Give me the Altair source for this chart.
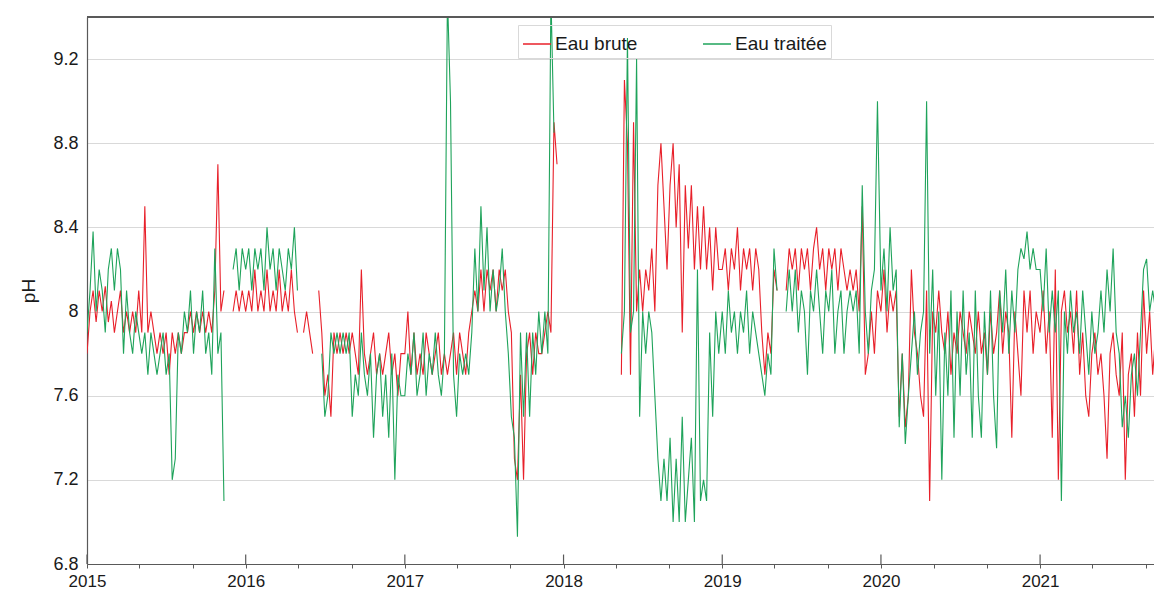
import altair as alt
import pandas as pd

# ---------------- data (weekly readings) ----------------
years = [2015, 2016, 2017, 2018, 2019, 2020, 2021]
series_names = ["Eau brute", "Eau traitée"]
series_colors = ["#E8202A", "#1FA35B"]
y_ticks = [6.8, 7.2, 7.6, 8.0, 8.4, 8.8, 9.2]

brute_2015 = [7.8, 8.0, 8.1, 7.95, 8.1, 8.0, 8.12, 7.95, 8.05, 7.9,
              8.0, 8.1, 7.9, 8.0, 7.9, 8.0, 7.9, 8.1, 7.9, 8.5,
              7.9, 8.0, 7.9, 7.8, 7.9, 7.8, 7.9, 7.7, 7.9, 7.8,
              7.9, 7.8, 7.9, 7.9, 8.0, 7.9, 8.0, 7.9, 8.0, 7.9,
              8.0, 7.9, 8.1, 8.7, 8.0, 8.1, None, None, 8.0, 8.1,
              8.0, 8.1]
traitee_2015 = [7.9, 8.1, 8.38, 8.0, 8.2, 8.1, 7.9, 8.2, 8.3, 8.1,
                8.3, 8.2, 7.8, 8.1, 7.9, 7.8, 8.0, 7.9, 7.8, 7.9,
                7.7, 7.9, 7.8, 7.7, 7.8, 7.9, 7.7, 7.8, 7.2, 7.3,
                7.9, 7.8, 8.0, 7.9, 8.1, 7.8, 8.0, 7.9, 8.1, 7.8,
                7.9, 7.7, 8.3, 7.8, 7.9, 7.1, None, None, 8.2, 8.3,
                8.1, 8.3]

brute_2016 = [8.0, 8.1, 8.0, 8.2, 8.0, 8.1, 8.0, 8.2, 8.0, 8.1,
              8.0, 8.2, 8.0, 8.1, 8.0, 8.2, 8.0, 7.9, None, 7.9,
              8.0, 7.9, 7.8, None, 8.1, 7.9, 7.6, 7.7, 7.5, 7.9,
              7.8, 7.9, 7.8, 7.9, 7.8, 7.9, 7.8, 7.7, 8.2, 7.8,
              7.7, 7.8, 7.9, 7.7, 7.8, 7.7, 7.8, 7.9, 7.7, 7.8,
              7.6, 7.8]
traitee_2016 = [8.2, 8.3, 8.1, 8.3, 8.2, 8.3, 8.1, 8.4, 8.2, 8.3,
                8.1, 8.3, 8.2, 8.1, 8.3, 8.2, 8.4, 8.1, None, None,
                None, None, None, None, None, 7.8, 7.5, 7.6, 7.9, 7.8,
                7.9, 7.8, 7.9, 7.8, 7.9, 7.5, 7.7, 7.6, 7.9, 7.7,
                7.6, 7.8, 7.4, 7.7, 7.8, 7.5, 7.7, 7.4, 7.8, 7.2,
                7.7, 7.6]

brute_2017 = [7.8, 8.0, 7.7, 7.9, 7.7, 7.8, 7.7, 7.9, 7.8, 7.7,
              7.8, 7.9, 7.7, 7.8, 7.7, 7.8, 7.9, 7.7, 7.9, 7.8,
              7.7, 7.9, 8.0, 8.1, 8.0, 8.2, 8.0, 8.2, 8.1, 8.2,
              8.0, 8.2, 8.1, 8.2, 8.0, 7.9, 7.3, 7.2, 7.7, 7.2,
              7.8, 7.9, 7.7, 7.9, 7.8, 7.8, 7.9, 8.0, 7.9, 8.9,
              8.7, None]
traitee_2017 = [7.6, 7.8, 7.7, 7.9, 7.6, 7.7, 7.9, 7.6, 7.8, 7.7,
                7.9, 7.7, 7.6, 7.8, 9.5, 9.0, 7.7, 7.5, 7.8, 7.7,
                7.8, 7.7, 7.9, 8.3, 8.0, 8.5, 8.1, 8.4, 8.0, 8.2,
                8.0, 8.1, 8.3, 8.0, 7.8, 7.5, 7.4, 6.93, 7.9, 7.5,
                7.9, 7.5, 7.9, 7.7, 8.0, 7.8, 8.0, 7.8, 9.5, 8.85,
                None, None]

brute_2018 = [None] * 19 + [
    7.7, 9.1, 8.8, 7.7, 8.9, 8.0, 8.2, 8.0, 8.2, 8.1,
    8.3, 8.0, 8.6, 8.8, 8.5, 8.2, 8.6, 8.8, 8.4, 8.7,
    7.9, 8.6, 8.3, 8.6, 8.2, 8.5, 8.2, 8.5, 8.2, 8.4,
    8.1, 8.4, 8.2]
traitee_2018 = [None] * 19 + [
    7.8, 8.0, 9.3, 7.9, 8.0, 9.2, 7.5, 8.0, 7.8, 8.0,
    7.9, 7.6, 7.3, 7.1, 7.3, 7.1, 7.4, 7.0, 7.3, 7.0,
    7.5, 7.0, 7.2, 7.4, 7.0, 8.2, 7.1, 7.2, 7.1, 7.9,
    7.5, 8.0, 7.8]

brute_2019 = [8.2, 8.3, 8.1, 8.3, 8.2, 8.4, 8.1, 8.3, 8.2, 8.3,
              8.1, 8.3, 8.2, 7.9, 7.7, 7.9, 7.8, 8.2, 8.1, None,
              None, 8.1, 8.3, 8.2, 8.3, 8.1, 8.3, 8.2, 8.3, 8.1,
              8.3, 8.4, 8.2, 8.3, 8.1, 8.3, 8.2, 8.3, 8.1, 8.3,
              8.2, 8.1, 8.2, 8.1, 8.2, 8.0, 8.5, 7.7, 7.8, 8.0,
              7.8, 8.1]
traitee_2019 = [8.0, 7.8, 8.1, 7.9, 8.0, 7.8, 8.0, 7.9, 8.1, 7.8,
                8.0, 7.9, 7.8, 7.7, 7.6, 7.8, 7.7, 8.3, 8.1, None,
                None, 8.0, 8.2, 8.0, 8.2, 7.9, 8.1, 8.0, 7.7, 8.1,
                8.0, 8.2, 8.0, 7.8, 8.1, 8.0, 8.2, 7.8, 8.0, 8.1,
                7.8, 8.0, 8.1, 8.0, 8.1, 7.8, 8.6, 8.0, 7.8, 8.1,
                8.2, 9.0]

brute_2020 = [8.0, 8.2, 7.9, 8.1, 8.0, 8.1, 7.5, 7.8, 7.45, 7.6,
              8.2, 7.9, 7.8, 7.6, 7.5, 8.1, 7.1, 8.0, 7.9, 8.1,
              7.9, 7.8, 8.0, 7.7, 7.9, 7.8, 8.0, 7.9, 7.8, 8.0,
              7.9, 7.8, 8.0, 7.8, 7.9, 7.7, 8.0, 7.8, 7.9, 8.1,
              7.8, 8.0, 7.9, 7.4, 8.0, 7.8, 7.6, 8.1, 7.9, 8.1,
              7.8, 8.0]
traitee_2020 = [8.1, 8.3, 8.0, 8.4, 8.1, 8.2, 7.45, 7.8, 7.37, 7.6,
                7.8, 8.0, 7.7, 7.9, 8.0, 9.0, 7.8, 8.2, 7.6, 8.0,
                7.2, 7.9, 7.6, 8.1, 7.4, 8.0, 7.6, 8.1, 7.7, 7.9,
                7.4, 8.1, 7.6, 7.4, 8.0, 7.7, 8.1, 7.6, 7.35, 8.1,
                7.9, 8.2, 7.8, 8.1, 7.9, 8.2, 8.3, 8.25, 8.38, 8.2,
                8.3, 8.2]

brute_2021 = [7.9, 8.1, 7.8, 8.0, 7.4, 8.2, 7.2, 8.0, 8.1, 7.9,
              8.0, 7.8, 8.1, 7.7, 7.9, 7.6, 7.5, 7.8, 7.9, 7.7,
              7.8, 7.6, 7.3, 7.8, 7.9, 7.7, 7.6, 7.9, 7.2, 7.7,
              7.8, 7.5, 7.9, 7.6, 8.1, 7.8, 8.0, 7.7, 7.9]
traitee_2021 = [8.2, 8.0, 8.3, 7.9, 8.1, 7.9, 8.1, 7.1, 8.0, 7.8,
                8.1, 7.9, 8.0, 7.8, 8.1, 7.9, 7.7, 8.0, 7.8, 7.9,
                8.1, 7.9, 8.2, 8.0, 8.3, 7.9, 7.8, 7.45, 7.6, 7.4,
                7.7, 7.8, 7.6, 7.9, 8.2, 8.25, 8.0, 8.1, 8.0]

brute = [brute_2015, brute_2016, brute_2017, brute_2018, brute_2019, brute_2020, brute_2021]
traitee = [traitee_2015, traitee_2016, traitee_2017, traitee_2018, traitee_2019, traitee_2020, traitee_2021]

# ---------------- long table ----------------
rows = []
for year, b_vals, t_vals in zip(years, brute, traitee):
    start = pd.Timestamp(year=year, month=1, day=1)
    for name, vals in ((series_names[0], b_vals), (series_names[1], t_vals)):
        for k, v in enumerate(vals):
            d = start + pd.Timedelta(days=7 * k)
            rows.append({"date": d.strftime("%Y-%m-%dT00:00:00"), "pH": v, "serie": name})
df = pd.DataFrame(rows)

year_df = pd.DataFrame({"date": [f"{y}-01-01T00:00:00" for y in years]})

month_ticks = [alt.DateTime(year=y, month=m, date=1)
               for y in years for m in range(1, 13) if not (y == 2021 and m > 9)]

FONT = "Liberation Sans"
TXT = "#1a1a1a"
AX = "#595959"

x_scale = alt.Scale(domain=[alt.DateTime(year=2015, month=1, date=1),
                            alt.DateTime(year=2021, month=9, date=20)])
y_scale = alt.Scale(domain=[6.8, 9.4], nice=False, zero=False)

x_axis = alt.Axis(values=month_ticks, title=None, grid=False,
                  labelExpr="month(datum.value) == 0 ? timeFormat(datum.value, '%Y') : ''",
                  labelOverlap=False, labelFlush=False, labelBound=False,
                  tickSize=4, tickColor=AX, domainColor=AX, domainWidth=1.2,
                  labelFontSize=17, labelFont=FONT, labelColor=TXT, labelPadding=5)
y_axis = alt.Axis(values=y_ticks, format="~g", title="pH", grid=True, gridColor="#D9D9D9",
                  tickSize=0, domainColor=AX, domainWidth=1.2,
                  labelFontSize=18, labelFont=FONT, labelColor=TXT, labelPadding=9,
                  titleFontSize=19, titleFont=FONT, titleColor=TXT, titleFontWeight="normal",
                  titlePadding=14)

lines = alt.Chart(df).mark_line(strokeWidth=1.1, clip=True,
                                invalid="break-paths-show-domains").encode(
    x=alt.X("date:T", scale=x_scale, axis=x_axis),
    y=alt.Y("pH:Q", scale=y_scale, axis=y_axis),
    color=alt.Color("serie:N",
                    scale=alt.Scale(domain=series_names, range=series_colors),
                    legend=alt.Legend(title=None, orient="none", legendX=431, legendY=8,
                                      direction="horizontal", symbolType="stroke",
                                      symbolSize=784, symbolStrokeWidth=1.5,
                                      labelFontSize=19, labelFont=FONT, labelColor=TXT,
                                      strokeColor="#D9D9D9", padding=4,
                                      columnPadding=62, labelOffset=3)),
)

year_marks = alt.Chart(year_df).mark_rule(color=AX, strokeWidth=1.2).encode(
    x=alt.X("date:T"),
    y=alt.datum(6.8),
    y2=alt.datum(6.845),
)

top_border = alt.Chart(year_df).mark_rule(color=AX, strokeWidth=1.2).encode(
    y=alt.datum(9.4),
)

chart = alt.layer(lines, year_marks, top_border).properties(
    width=1067,
    height=547,
    autosize=alt.AutoSizeParams(type="none"),
    padding={"left": 79, "top": 9, "right": 0, "bottom": 25},
).configure_view(strokeOpacity=0)

chart.save("out.html", embed_options={"renderer": "svg", "actions": False})
